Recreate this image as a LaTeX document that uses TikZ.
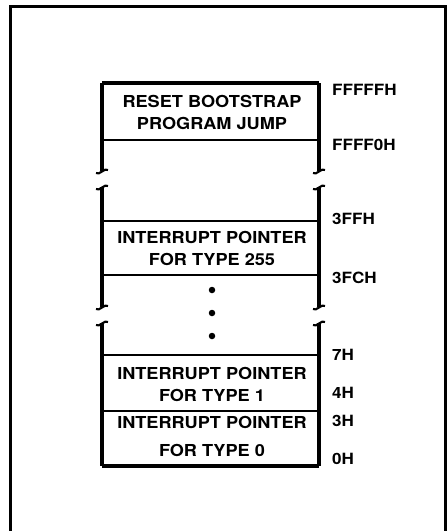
\documentclass[tikz,border=0pt]{standalone}
\usepackage{fontspec}
\setmainfont{TeX Gyre Heros}
\newfontfamily\memfont{texgyreheros-bold}[Extension=.otf, FakeStretch=1.1]
\tikzset{
  cell/.style={font=\memfont\fontsize{16.5}{22}\selectfont, align=center, inner sep=0pt},
  addr/.style={font=\memfont\fontsize{15.5}{18}\selectfont, anchor=west, inner sep=0pt},
  rail/.style={line width=3.3pt},
  divider/.style={line width=2.1pt},
  dotmark/.style={circle, fill, inner sep=0pt, minimum size=6.5pt},
}
\begin{document}
\begin{tikzpicture}[x=1pt, y=-1pt]
\useasboundingbox (0,0) rectangle (447,531);
% page frame
\draw[line width=3pt] (10,545) -- (10,6) -- (445,6) -- (445,545);
% memory map rails with breaks
\foreach \x in {102,319} {
  \draw[rail] (\x,83) -- (\x,171);
  \draw[rail] (\x,187) -- (\x,307);
  \draw[rail] (\x,323) -- (\x,466);
  \foreach \y in {171,187,307,323}
    \draw[divider] (\x-6,\y+2) .. controls (\x-3,\y+5) and (\x+3,\y-4) .. (\x+6,\y-1);
}
% cell boundaries
\draw[rail] (102,83) -- (319,83);
\foreach \y in {140,221,275,355,411} \draw[divider] (102,\y) -- (319,\y);
\draw[rail] (102,466) -- (319,466);
% cell contents
\node[cell] (reset) at (212,112) {RESET BOOTSTRAP\\PROGRAM JUMP};
\node[cell] (int255) at (212,248) {INTERRUPT POINTER\\FOR TYPE 255};
\node[cell] (int1) at (212,384) {INTERRUPT POINTER\\FOR TYPE 1};
\node[cell] (int0) at (212,436) {INTERRUPT POINTER\\[6pt]FOR TYPE 0};
\node[dotmark] (dota) at (212,290) {};
\node[dotmark] (dotb) at (212,313) {};
\node[dotmark] (dotc) at (212,336) {};
% addresses
\node[addr] (aFFFFF) at (332,90) {FFFFFH};
\node[addr] (aFFFF0) at (332,145) {FFFF0H};
\node[addr] (a3FF) at (332,219) {3FFH};
\node[addr] (a3FC) at (332,278) {3FCH};
\node[addr] (a7) at (332,355) {7H};
\node[addr] (a4) at (332,393) {4H};
\node[addr] (a3) at (332,421) {3H};
\node[addr] (a0) at (332,459) {0H};
\end{tikzpicture}
\end{document}
